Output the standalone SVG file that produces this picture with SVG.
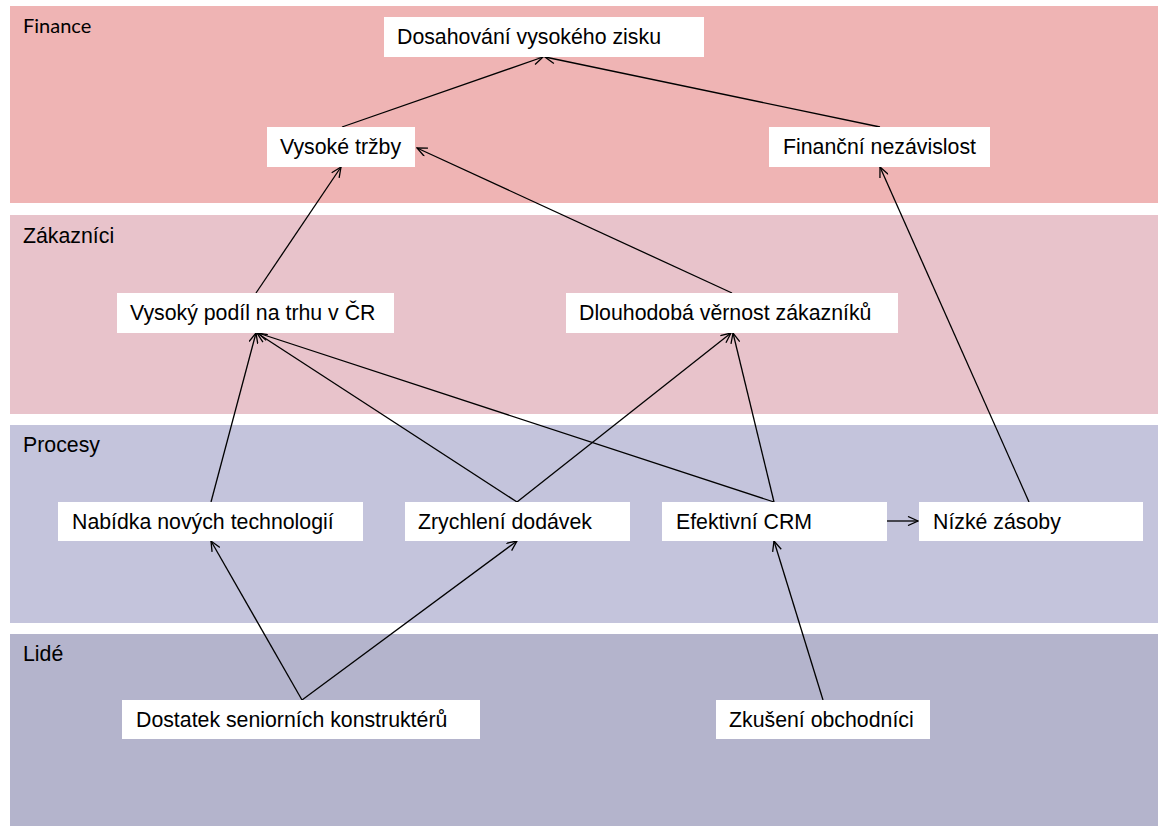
<svg xmlns="http://www.w3.org/2000/svg" width="1159" height="828" viewBox="0 0 1159 828">
<style>
.band-label{font-family:"Liberation Sans",Arial,sans-serif;font-size:21.3px;fill:#000}
.fin-label{font-family:Lato,"Liberation Sans",sans-serif;font-size:20px;fill:#000}
.node rect{fill:#fff}
.node text{font-family:"Liberation Sans",Arial,sans-serif;font-size:21.3px;fill:#000}
.conn line{stroke:#000;stroke-width:1.3;fill:none;marker-end:url(#arr)}
</style>
<defs>
<marker id="arr" viewBox="0 0 12 10" refX="11" refY="5" markerWidth="12" markerHeight="10" markerUnits="userSpaceOnUse" orient="auto">
<path d="M1,0.5 L11,5 L1,9.5" fill="none" stroke="#000" stroke-width="1.3"/>
</marker>
</defs>
<rect width="1159" height="828" fill="#fff"/>
<g id="bands">
<rect x="10" y="6" width="1148" height="197" fill="#efb4b4"/>
<rect x="10" y="215" width="1148" height="199" fill="#e8c3cb"/>
<rect x="10" y="425" width="1148" height="198" fill="#c4c4dc"/>
<rect x="10" y="634" width="1148" height="192" fill="#b4b4cc"/>
<text class="fin-label" x="23" y="33">Finance</text>
<text class="band-label" x="23" y="243">Zákazníci</text>
<text class="band-label" x="23" y="452">Procesy</text>
<text class="band-label" x="23" y="661">Lidé</text>
</g>
<g id="connectors" class="conn">
<line x1="342" y1="127" x2="543" y2="57"/>
<line x1="880" y1="127" x2="545" y2="57"/>
<line x1="256" y1="293" x2="341" y2="167"/>
<line x1="732" y1="293" x2="417" y2="148"/>
<line x1="1029" y1="502" x2="880" y2="167"/>
<line x1="211" y1="502" x2="256" y2="333"/>
<line x1="517" y1="502" x2="257" y2="333"/>
<line x1="774" y1="502" x2="258" y2="333"/>
<line x1="517" y1="502" x2="731" y2="333"/>
<line x1="774" y1="502" x2="733" y2="333"/>
<line x1="887" y1="521" x2="918" y2="521"/>
<line x1="302" y1="700" x2="211" y2="541"/>
<line x1="302" y1="700" x2="517" y2="541"/>
<line x1="823" y1="700" x2="774" y2="541"/>
</g>
<g id="n-zisk" class="node"><rect x="384" y="17" width="320" height="40"/><text x="397" y="44">Dosahování vysokého zisku</text></g>
<g id="n-trzby" class="node"><rect x="267" y="127" width="148" height="40"/><text x="280" y="154">Vysoké tržby</text></g>
<g id="n-nezavislost" class="node"><rect x="769" y="127" width="221" height="40"/><text x="783" y="154">Finanční nezávislost</text></g>
<g id="n-podil" class="node"><rect x="117" y="293" width="277" height="40"/><text x="130" y="320">Vysoký podíl na trhu v ČR</text></g>
<g id="n-vernost" class="node"><rect x="566" y="293" width="332" height="40"/><text x="579" y="320">Dlouhodobá věrnost zákazníků</text></g>
<g id="n-technologie" class="node"><rect x="58" y="502" width="305" height="39"/><text x="72" y="529">Nabídka nových technologií</text></g>
<g id="n-dodavky" class="node"><rect x="405" y="502" width="225" height="39"/><text x="418" y="529">Zrychlení dodávek</text></g>
<g id="n-crm" class="node"><rect x="662" y="502" width="225" height="39"/><text x="676" y="529">Efektivní CRM</text></g>
<g id="n-zasoby" class="node"><rect x="919" y="502" width="224" height="39"/><text x="933" y="529">Nízké zásoby</text></g>
<g id="n-konstrukteri" class="node"><rect x="122" y="700" width="358" height="39"/><text x="136" y="727">Dostatek seniorních konstruktérů</text></g>
<g id="n-obchodnici" class="node"><rect x="716" y="700" width="214" height="39"/><text x="729" y="727">Zkušení obchodníci</text></g>
</svg>
